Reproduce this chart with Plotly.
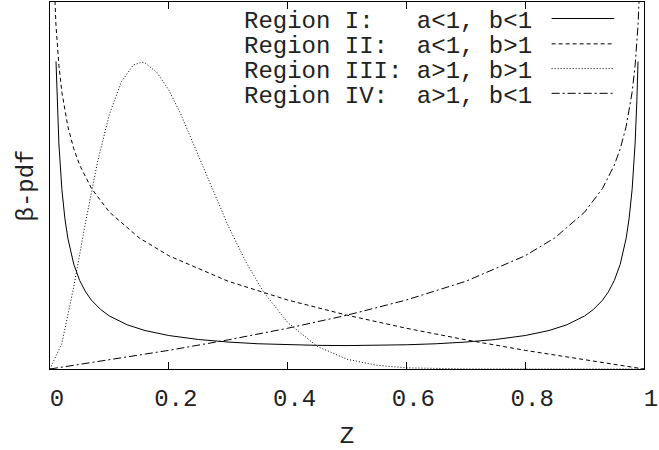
import plotly.graph_objects as go

# ---- data (beta pdf curves) ----
z_I = [0.0101, 0.012, 0.015, 0.02, 0.025, 0.03, 0.04, 0.05, 0.06, 0.07, 0.085, 0.1, 0.13, 0.16,
       0.2, 0.25, 0.3, 0.35, 0.4, 0.45, 0.5, 0.55, 0.6, 0.65, 0.7, 0.75, 0.8, 0.84, 0.87, 0.9,
       0.915, 0.93, 0.94, 0.95, 0.96, 0.97, 0.975, 0.98, 0.985, 0.988, 0.9899]
pdf_I = [4.19, 3.656, 3.066, 2.446, 2.054, 1.783, 1.428, 1.205, 1.050, 0.936, 0.812, 0.722, 0.602, 0.524,
         0.456, 0.402, 0.367, 0.344, 0.330, 0.322, 0.319, 0.322, 0.330, 0.344, 0.367, 0.402, 0.456, 0.524, 0.602, 0.722,
         0.812, 0.936, 1.050, 1.205, 1.428, 1.783, 2.054, 2.446, 3.066, 3.656, 4.19]

z_II = [0.006, 0.008, 0.01, 0.015, 0.02, 0.03, 0.04, 0.05, 0.07, 0.1, 0.15, 0.2, 0.3, 0.4,
        0.5, 0.6, 0.7, 0.8, 0.9, 1.0]
pdf_II = [5.49, 5.025, 4.69, 4.132, 3.771, 3.305, 3.001, 2.777, 2.458, 2.137, 1.787, 1.543, 1.195, 0.940,
          0.733, 0.555, 0.397, 0.254, 0.123, 0.0]

z_III = [0.0, 0.02, 0.04, 0.06, 0.08, 0.1, 0.12, 0.14, 0.154, 0.16, 0.18, 0.2, 0.22, 0.25, 0.28, 0.3,
         0.33, 0.36, 0.4, 0.45, 0.5, 0.55, 0.6, 0.7, 0.8, 1.0]
pdf_III = [0.0, 0.350, 1.120, 2.005, 2.820, 3.470, 3.910, 4.140, 4.180, 4.170, 4.040, 3.800, 3.475, 2.905, 2.320, 1.950,
           1.455, 1.045, 0.634, 0.308, 0.133, 0.051, 0.016, 0.001, 0.0, 0.0]

z_IV = [0.0, 0.1, 0.2, 0.3, 0.4, 0.5, 0.6, 0.7, 0.8, 0.85, 0.9, 0.93, 0.95, 0.96, 0.97, 0.98,
        0.985, 0.99, 0.992, 0.994]
pdf_IV = [0.0, 0.123, 0.254, 0.397, 0.555, 0.733, 0.940, 1.195, 1.543, 1.787, 2.137, 2.458, 2.777, 3.001, 3.305, 3.771,
          4.132, 4.69, 5.025, 5.49]

labels = ["Region I:   a<1, b<1", "Region II:  a<1, b>1",
          "Region III: a>1, b>1", "Region IV:  a>1, b<1"]
xticks = [0, 0.2, 0.4, 0.6, 0.8, 1]
xticktext = ["0", "0.2", "0.4", "0.6", "0.8", "1"]

FONT = "Liberation Mono, Courier New, monospace"
TXT = "#222222"
dashes = ["solid", "4px,3px", "1px,2px", "8px,3px,2px,3px"]
series = [(z_I, pdf_I), (z_II, pdf_II), (z_III, pdf_III), (z_IV, pdf_IV)]

fig = go.Figure()
for (zx, py), lab, d in zip(series, labels, dashes):
    fig.add_trace(go.Scatter(x=zx, y=py, mode="lines", name=lab, showlegend=False,
                             line=dict(color="black", width=1, dash=d)))

W, H = 659, 450
ml, mr, mt, mb = 50, 11, 1, 78
ph = H - mt - mb

def ypaper(pix):
    return (H - mb - pix) / ph

def xpaper(pix):
    return (pix - ml) / (W - ml - mr)

text_y = [20.5, 45.8, 71.0, 96.3]
line_y = [17.7, 43.3, 68.3, 93.3]
for lab, d, ty, ly in zip(labels, dashes, text_y, line_y):
    fig.add_annotation(x=xpaper(537), y=ypaper(ty), xref="paper", yref="paper",
                       text=lab.replace(" ", "&nbsp;"), showarrow=False, xanchor="right", yanchor="middle",
                       font=dict(family=FONT, size=24, color=TXT))
    fig.add_shape(type="line", xref="paper", yref="paper",
                  x0=xpaper(555), x1=xpaper(618), y0=ypaper(ly), y1=ypaper(ly),
                  line=dict(color="black", width=1, dash=d))

fig.update_layout(
    width=W, height=H, margin=dict(l=ml, r=mr, t=mt, b=mb),
    plot_bgcolor="white", paper_bgcolor="white",
    font=dict(family=FONT, size=24, color=TXT),
)
fig.update_xaxes(range=[0, 1], tickvals=xticks, ticktext=xticktext, ticks="inside", ticklen=7,
                 tickcolor="black", showline=True, linecolor="black", linewidth=1, mirror="ticks",
                 showgrid=False, zeroline=False, ticklabelshift=7, ticklabelstandoff=7,
                 ticklabeloverflow="allow",
                 title=dict(text="Z", standoff=19, font=dict(family=FONT, size=24, color=TXT)))
fig.update_yaxes(range=[0, 5], showticklabels=False, ticks="", showline=True, linecolor="black",
                 linewidth=1, mirror=True, showgrid=False, zeroline=False,
                 title=dict(text="β-pdf", standoff=8, font=dict(family=FONT, size=24, color=TXT)))

fig.write_html("out.html")
